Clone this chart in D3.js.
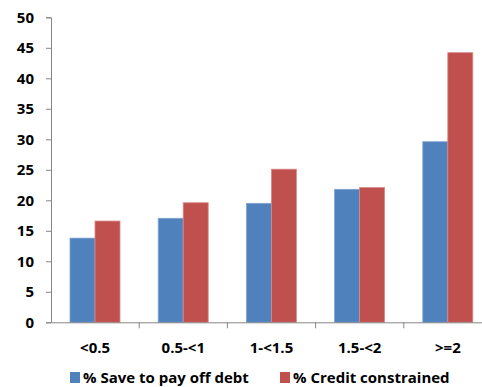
<!DOCTYPE html>
<html>
<head>
<meta charset="utf-8">
<script src="https://cdn.jsdelivr.net/npm/d3@7"></script>
<style>
  body { margin: 0; background: #fff; }
  text { font-family: "Open Sans", Lato, sans-serif; font-weight: bold; fill: #000; }
</style>
</head>
<body>
<div id="chart"></div>
<script>
const categories = ['<0.5', '0.5-<1', '1-<1.5', '1.5-<2', '>=2']
const saveToPayOff = [13.8, 17.05, 19.5, 21.8, 29.6]
const creditConstrained = [16.6, 19.6, 25.1, 22.1, 44.2]
const seriesNames = ['% Save to pay off debt', '% Credit constrained']
const seriesColors = ['#4F81BD', '#C0504D']
const yTicks = [0, 5, 10, 15, 20, 25, 30, 35, 40, 45, 50]

const width = 482
const height = 387
const plot = { left: 51, right: 492, top: 17.3, bottom: 322.3 }

const svg = d3.select('#chart')
  .append('svg')
  .attr('width', width)
  .attr('height', height)

const x = d3.scaleBand().domain(categories).range([plot.left, plot.right])
const y = d3.scaleLinear().domain([0, 50]).range([plot.bottom, plot.top])

// bars, two per category, 25px wide with ~19px gaps either side
const series = [saveToPayOff, creditConstrained]
series.forEach((vals, s) => {
  svg.append('g')
    .selectAll('rect')
    .data(vals)
    .join('rect')
    .attr('x', (d, i) => x(categories[i]) + 19 + s * 25)
    .attr('y', d => y(d))
    .attr('width', 25)
    .attr('height', d => y(0) - y(d))
    .attr('fill', seriesColors[s])
    .attr('stroke', s === 0 ? '#7fa3d1' : '#d88a88')
    .attr('stroke-width', 0.8)
})

// y axis
const yAxis = svg.append('g')
  .attr('transform', `translate(${plot.left},0)`)
  .call(d3.axisLeft(y).tickValues(yTicks).tickSize(5).tickPadding(12))
yAxis.select('.domain').attr('stroke', '#868686')
yAxis.selectAll('.tick line').attr('stroke', '#868686')
yAxis.selectAll('.tick text').attr('font-size', 15).attr('font-family', null)

// x axis
const xAxis = svg.append('g')
  .attr('transform', `translate(0,${plot.bottom})`)
  .call(d3.axisBottom(x).tickSize(0).tickPadding(20))
xAxis.select('.domain').attr('stroke', '#868686')
xAxis.selectAll('.tick text').attr('font-size', 15).attr('font-family', null)
svg.append('g')
  .selectAll('line')
  .data(categories)
  .join('line')
  .attr('x1', d => x(d) + x.bandwidth())
  .attr('x2', d => x(d) + x.bandwidth())
  .attr('y1', plot.bottom)
  .attr('y2', plot.bottom + 6)
  .attr('stroke', '#868686')

// legend (sits right at the bottom edge, as in the original)
const legendX = [70, 280]
seriesNames.forEach((name, s) => {
  const g = svg.append('g').attr('transform', `translate(${legendX[s]},372)`)
  g.append('rect').attr('width', 10).attr('height', 11).attr('fill', seriesColors[s])
  g.append('text').attr('x', 13).attr('y', 10.5).attr('font-size', 15).text(name)
})
</script>
</body>
</html>
